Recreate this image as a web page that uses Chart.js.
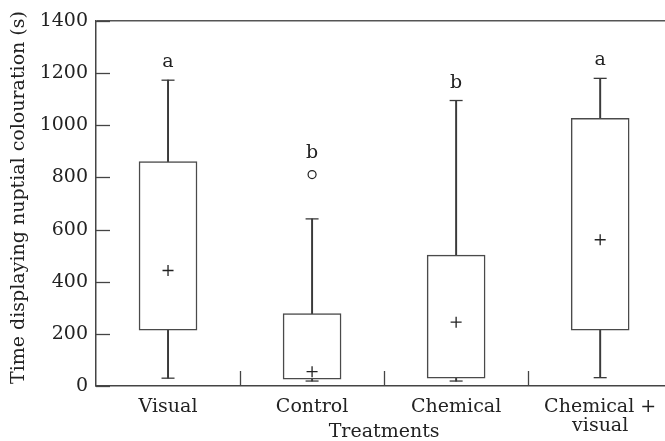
<!DOCTYPE html>
<html>
<head>
<meta charset="utf-8">
<script src="https://cdn.jsdelivr.net/npm/chart.js@4.4.1/dist/chart.umd.min.js"></script>
<style>
html,body{margin:0;padding:0;background:#fff;}
#wrap{width:665px;height:441px;position:relative;}
</style>
</head>
<body>
<div id="wrap"><canvas id="c" width="665" height="441"></canvas></div>
<script>
// ---- data ----
const categories = ['Visual', 'Control', 'Chemical', 'Chemical +\nvisual'];
const whiskerLow  = [30, 19, 19, 32];
const boxLow      = [214, 26, 30, 214];
const boxHigh     = [861, 278, 502, 1027];
const whiskerHigh = [1173, 641, 1095, 1180];
const means       = [443, 55, 245, 561];
const outliers    = [[], [811], [], []];
const letters     = ['a', 'b', 'b', 'a'];
const yTickValues = [0, 200, 400, 600, 800, 1000, 1200, 1400];
const xTitle = 'Treatments';
const yTitle = 'Time displaying nuptial colouration (s)';

const FONT = 'DejaVu Serif';
const TEXT = '#222';
const LINE = '#3a3a3a';

const idx = categories.map((_, i) => i);

const annot = {
  id: 'annot',
  afterDatasetsDraw(chart) {
    const {ctx, chartArea: a, scales: {x, y}} = chart;
    ctx.save();
    ctx.strokeStyle = '#444';
    ctx.lineWidth = 1.3;
    // inner y tick marks
    yTickValues.forEach(v => {
      const py = Math.round(y.getPixelForValue(v)) + 0.5;
      ctx.beginPath(); ctx.moveTo(a.left, py); ctx.lineTo(a.left + 14, py); ctx.stroke();
    });
    // category separators on x axis
    for (let i = 0; i < categories.length - 1; i++) {
      const px = Math.round(x.getPixelForValue(i + 0.5)) + 0.5;
      ctx.beginPath(); ctx.moveTo(px, a.bottom); ctx.lineTo(px, a.bottom - 15); ctx.stroke();
    }
    // significance letters
    ctx.fillStyle = TEXT;
    ctx.font = '19px "' + FONT + '"';
    ctx.textAlign = 'center';
    ctx.textBaseline = 'alphabetic';
    idx.forEach(i => {
      const top = Math.max(whiskerHigh[i], ...outliers[i]);
      const py = y.getPixelForValue(top) - 19 - (outliers[i].length ? 4 : 0);
      ctx.fillText(letters[i], x.getPixelForValue(i), py + 6);
    });
    ctx.restore();
  },
  afterDraw(chart) {
    const {ctx, chartArea: a, scales: {x}} = chart;
    ctx.save();
    ctx.fillStyle = TEXT;
    ctx.font = '19px "' + FONT + '"';
    ctx.textAlign = 'center';
    ctx.textBaseline = 'alphabetic';
    ctx.fillText(xTitle, x.getPixelForValue((categories.length - 1) / 2), a.bottom + 51);
    ctx.translate(19, (a.top + a.bottom) / 2 - 6);
    ctx.rotate(-Math.PI / 2);
    ctx.textBaseline = 'middle';
    ctx.fillText(yTitle, 0, 0);
    ctx.restore();
  }
};

new Chart(document.getElementById('c'), {
  type: 'bar',
  data: {
    datasets: [
      {
        type: 'bar', label: 'whisker', order: 4, grouped: false,
        data: idx.map(i => ({x: i, y: [whiskerLow[i], whiskerHigh[i]]})),
        backgroundColor: LINE, borderWidth: 0, barThickness: 1.3
      },
      {
        type: 'bar', label: 'box', order: 3, grouped: false,
        data: idx.map(i => ({x: i, y: [boxLow[i], boxHigh[i]]})),
        backgroundColor: '#fff', borderColor: '#4a4a4a', borderWidth: 1.5,
        borderSkipped: false, barThickness: 58
      },
      {
        type: 'line', label: 'caps', order: 2, showLine: false,
        data: idx.flatMap(i => [{x: i, y: whiskerLow[i]}, {x: i, y: whiskerHigh[i]}]),
        pointStyle: 'line', pointRadius: 6.5, borderColor: LINE, pointBorderWidth: 1.3,
        pointBackgroundColor: LINE
      },
      {
        type: 'line', label: 'mean', order: 1, showLine: false,
        data: idx.map(i => ({x: i, y: means[i]})),
        pointStyle: 'cross', pointRadius: 5.5, borderColor: '#222', pointBorderWidth: 1.3
      },
      {
        type: 'line', label: 'outliers', order: 1, showLine: false,
        data: idx.flatMap(i => outliers[i].map(v => ({x: i, y: v}))),
        pointStyle: 'circle', pointRadius: 4, borderColor: '#222', pointBorderWidth: 1.2,
        pointBackgroundColor: '#fff'
      }
    ]
  },
  options: {
    responsive: false,
    animation: false,
    layout: {autoPadding: false, padding: {top: 21, left: 0, right: 0, bottom: 0}},
    plugins: {legend: {display: false}, tooltip: {enabled: false}},
    scales: {
      x: {
        type: 'linear', min: -0.5, max: 3.45, offset: false,
        afterBuildTicks: s => { s.ticks = idx.map(v => ({value: v})); },
        afterFit: s => { s.height = 55; s.paddingLeft = 0; s.paddingRight = 0; },
        grid: {display: true, color: 'transparent', drawTicks: false},
        border: {display: true, color: '#444', width: 1.5},
        ticks: {
          autoSkip: false, maxRotation: 0, minRotation: 0, padding: 12,
          color: TEXT, font: {family: FONT, size: 19, lineHeight: 1.0},
          callback: v => { const s = categories[v]; return s === undefined ? '' : s.split('\n'); }
        }
      },
      y: {
        min: 0, max: 1400,
        afterBuildTicks: s => { s.ticks = yTickValues.map(v => ({value: v})); },
        afterFit: s => { s.width = 96; s.paddingTop = 0; s.paddingBottom = 0; },
        grid: {
          drawTicks: false, lineWidth: 1.5,
          color: c => (c.tick && c.tick.value === 1400) ? '#555' : 'transparent'
        },
        border: {display: true, color: '#444', width: 1.5},
        ticks: {padding: 8, color: TEXT, font: {family: FONT, size: 19}, callback: v => String(v)}
      }
    }
  },
  plugins: [annot]
});
</script>
</body>
</html>
